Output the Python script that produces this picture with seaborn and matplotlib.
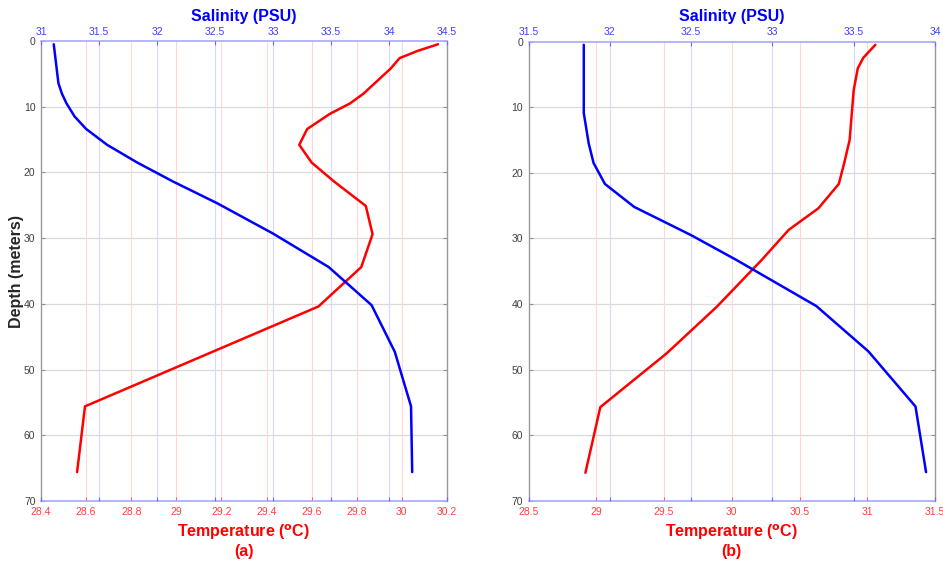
import numpy as np
import matplotlib
matplotlib.use('Agg')
import matplotlib.pyplot as plt
import seaborn as sns

# Panel (a): temperature profile
depth_temp_a = [0.5, 1.5, 2.6, 4.2, 8.0, 9.5, 11.1, 13.4, 15.8, 18.5, 21.4, 25.1, 29.4, 34.4, 40.4, 55.6, 65.6]
temp_a = [30.16, 30.07, 29.99, 29.95, 29.83, 29.77, 29.68, 29.58, 29.545, 29.60, 29.70, 29.84, 29.87, 29.82, 29.63, 28.595, 28.56]

# Panel (a): salinity profile
depth_sal_a = [0.5, 6.4, 8.0, 9.5, 11.5, 13.4, 15.8, 18.5, 21.4, 24.7, 29.3, 34.4, 40.2, 47.3, 55.6, 65.6]
sal_a = [31.11, 31.15, 31.18, 31.22, 31.29, 31.39, 31.57, 31.83, 32.14, 32.52, 33.0, 33.48, 33.85, 34.05, 34.19, 34.20]

# Panel (b): temperature profile
depth_temp_b = [0.5, 2.5, 4.1, 7.4, 15.0, 18.5, 21.7, 25.4, 28.7, 33.3, 40.4, 47.5, 55.7, 65.7]
temp_b = [31.06, 30.97, 30.93, 30.90, 30.87, 30.83, 30.79, 30.64, 30.42, 30.22, 29.89, 29.52, 29.03, 28.92]

# Panel (b): salinity profile
depth_sal_b = [0.5, 10.9, 15.5, 18.5, 21.7, 25.2, 29.5, 33.3, 40.3, 47.2, 55.6, 65.6]
sal_b = [31.84, 31.84, 31.87, 31.90, 31.97, 32.15, 32.50, 32.78, 33.27, 33.59, 33.88, 33.945]

depth_ticks = [0, 10, 20, 30, 40, 50, 60, 70]
temp_ticks_a = [28.4, 28.6, 28.8, 29, 29.2, 29.4, 29.6, 29.8, 30, 30.2]
sal_ticks_a = [31, 31.5, 32, 32.5, 33, 33.5, 34, 34.5]
temp_ticks_b = [28.5, 29, 29.5, 30, 30.5, 31, 31.5]
sal_ticks_b = [31.5, 32, 32.5, 33, 33.5, 34]

sns.set_theme(style='white')
plt.rcParams['font.family'] = ['Liberation Sans', 'DejaVu Sans']

RED = '#ff0000'
BLUE = '#0000ff'
RED_TXT = '#ff4040'
BLUE_TXT = '#4040ff'

fig = plt.figure(figsize=(9.43, 5.62), dpi=100)


def draw_panel(rect, d_t, t, d_s, s, t_ticks, s_ticks, letter, ylabel):
    ax = fig.add_axes(rect)
    ax_s = ax.twiny()

    # grids all on the bottom axes so they stay under both lines
    for d in depth_ticks[1:-1]:
        ax.axhline(d, color='#dadada', lw=0.9, zorder=0)
    for v in t_ticks[1:-1]:
        ax.axvline(v, color='#ffd6d6', lw=0.8, zorder=0)
    s_frac = [(v - s_ticks[0]) / (s_ticks[-1] - s_ticks[0]) for v in s_ticks[1:-1]]
    ax.vlines(s_frac, 0, 1, transform=ax.transAxes, color='#d8d8ff', lw=0.8, zorder=0)

    sns.lineplot(x=t, y=d_t, ax=ax, sort=False, estimator=None, color=RED, lw=1.8)
    sns.lineplot(x=s, y=d_s, ax=ax_s, sort=False, estimator=None, color=BLUE, lw=1.8)

    ax.set_xlim(t_ticks[0], t_ticks[-1])
    ax_s.set_xlim(s_ticks[0], s_ticks[-1])
    ax.set_ylim(70, 0)
    ax.set_xticks(t_ticks)
    ax.set_xticklabels([f'{v:g}' for v in t_ticks])
    ax_s.set_xticks(s_ticks)
    ax_s.set_xticklabels([f'{v:g}' for v in s_ticks])
    ax.set_yticks(depth_ticks)

    ax.tick_params(axis='x', bottom=True, top=False, direction='in', length=3,
                   width=0.8, colors='#ff5a5a', labelcolor=RED_TXT, labelsize=7.5, pad=4)
    ax.tick_params(axis='y', left=True, right=True, direction='in', length=3,
                   width=0.8, colors='#909090', labelcolor='#404040', labelsize=7.5, pad=4)
    ax_s.tick_params(axis='x', top=True, bottom=True, labelbottom=False, labeltop=True,
                     direction='in', length=3, width=0.8, colors='#6a6aff',
                     labelcolor=BLUE_TXT, labelsize=7.5, pad=3)

    for side in ['left', 'right']:
        ax.spines[side].set_color('#9a9a9a')
        ax.spines[side].set_linewidth(1.0)
    for side in ['top', 'bottom']:
        ax.spines[side].set_color('#a8a8ff')
        ax.spines[side].set_linewidth(1.2)
    for sp in ax_s.spines.values():
        sp.set_visible(False)

    ax.set_xlabel('')
    ax.set_ylabel('')
    ax_s.set_xlabel('')

    ax_s.text(0.5, 1.054, 'Salinity (PSU)', transform=ax.transAxes, ha='center', va='center',
              fontsize=11.5, fontweight='bold', color=BLUE)
    ax.text(0.5, -0.068, 'Temperature ($\\mathbf{^{o}}$C)', transform=ax.transAxes,
            ha='center', va='center', fontsize=11.5, fontweight='bold', color=RED)
    ax.text(0.5, -0.11, letter, transform=ax.transAxes, ha='center', va='center',
            fontsize=11.5, fontweight='bold', color=RED)
    if ylabel:
        ax.set_ylabel('Depth (meters)', fontsize=11.5, fontweight='bold', color='#262626', labelpad=0)
    return ax


draw_panel([41 / 943, 61 / 562, 406 / 943, 460 / 562],
           depth_temp_a, temp_a, depth_sal_a, sal_a, temp_ticks_a, sal_ticks_a, '(a)', True)
draw_panel([528.5 / 943, 61 / 562, 406.5 / 943, 459.5 / 562],
           depth_temp_b, temp_b, depth_sal_b, sal_b, temp_ticks_b, sal_ticks_b, '(b)', False)

fig.savefig('out.png', dpi=100)
